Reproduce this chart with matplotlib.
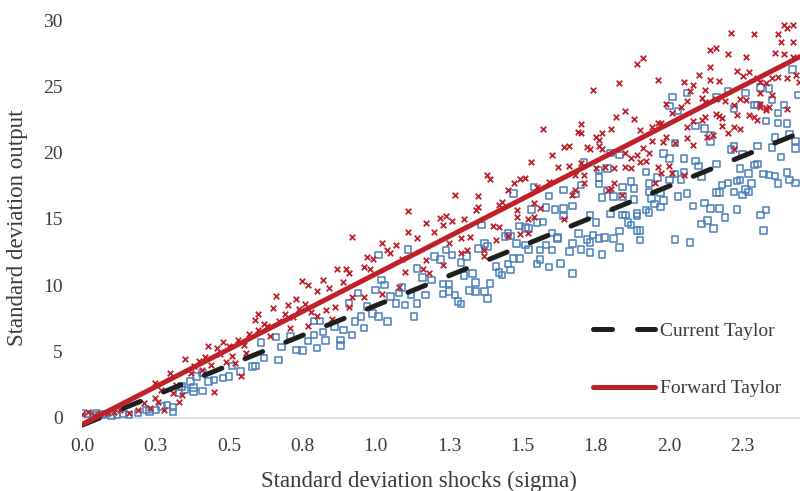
import matplotlib.pyplot as plt

plt.rcParams['font.family'] = ['Liberation Serif', 'DejaVu Serif']

# x ticks every 0.25, labelled with one decimal (Excel style)
x_ticks = [0.0, 0.25, 0.5, 0.75, 1.0, 1.25, 1.5, 1.75, 2.0, 2.25]
x_labels = ['0.0', '0.3', '0.5', '0.8', '1.0', '1.3', '1.5', '1.8', '2.0', '2.3']
y_ticks = [0, 5, 10, 15, 20, 25, 30]

# fitted lines
line_x = [0.0, 2.445]
current_taylor = [-0.55, 21.5]
forward_taylor = [-0.5, 27.25]

# simulated points, forward Taylor (red x)
red_pts = [
    (0.00, 0.30), (0.02, 0.47), (0.04, 0.25), (0.06, 0.40), (0.09, 0.35), (0.11, 0.45), (0.13, 0.60),
    (0.16, 0.35), (0.19, 0.60), (0.21, 1.11), (0.23, 0.73), (0.25, 1.48), (0.25, 2.61), (0.26, 1.23),
    (0.27, 2.11), (0.28, 0.60), (0.30, 3.37), (0.31, 1.86), (0.32, 2.49), (0.33, 1.23), (0.34, 1.73),
    (0.35, 4.42), (0.37, 3.40), (0.38, 3.90), (0.41, 3.60), (0.40, 4.30), (0.42, 4.60), (0.43, 5.45),
    (0.44, 4.00), (0.45, 1.94), (0.46, 5.30), (0.47, 4.80), (0.48, 5.70), (0.49, 4.20), (0.50, 5.40),
    (0.51, 4.70), (0.52, 4.10), (0.53, 5.90), (0.54, 3.17), (0.55, 5.50), (0.56, 4.90), (0.57, 6.30),
    (0.59, 7.40), (0.60, 7.84), (0.60, 6.60), (0.62, 7.10), (0.63, 6.90), (0.64, 6.16), (0.65, 8.27),
    (0.66, 9.19), (0.67, 7.30), (0.69, 7.80), (0.70, 8.50), (0.71, 6.76), (0.72, 7.60), (0.73, 9.00),
    (0.74, 8.20), (0.75, 10.35), (0.76, 8.60), (0.77, 10.00), (0.77, 6.90), (0.78, 8.00), (0.80, 9.60),
    (0.80, 7.70), (0.82, 10.40), (0.83, 8.14), (0.84, 9.77), (0.85, 7.44), (0.86, 8.39), (0.87, 11.20),
    (0.89, 10.23), (0.90, 11.20), (0.91, 10.90), (0.91, 8.39), (0.92, 13.66), (0.92, 9.14), (0.96, 11.36),
    (0.96, 9.09), (0.97, 12.16), (0.98, 11.20), (0.99, 11.96), (1.02, 13.16), (1.02, 9.34), (1.04, 12.66),
    (1.05, 12.46), (1.07, 13.04), (1.08, 9.85), (1.09, 11.96), (1.10, 11.03), (1.11, 15.62), (1.11, 14.02),
    (1.14, 13.54), (1.16, 11.20), (1.17, 14.67), (1.17, 11.90), (1.18, 10.90), (1.20, 14.04), (1.22, 15.05),
    (1.23, 11.53), (1.23, 14.54), (1.24, 15.22), (1.25, 13.16), (1.26, 14.85), (1.27, 16.83), (1.29, 13.54),
    (1.29, 12.41), (1.30, 14.97), (1.31, 12.66), (1.32, 13.66), (1.34, 15.67), (1.35, 15.92), (1.35, 16.73),
    (1.37, 12.21), (1.37, 12.66), (1.38, 18.29), (1.39, 17.99), (1.40, 14.47), (1.41, 13.41), (1.42, 16.05),
    (1.42, 14.42), (1.43, 16.30), (1.45, 17.18), (1.45, 13.72), (1.47, 17.73), (1.48, 15.12), (1.48, 15.67),
    (1.49, 18.03), (1.49, 13.87), (1.51, 18.06), (1.52, 14.97), (1.52, 13.96), (1.53, 19.27), (1.54, 15.17),
    (1.54, 16.22), (1.55, 17.38), (1.56, 15.80), (1.57, 21.78), (1.59, 17.81), (1.60, 19.82), (1.62, 18.89),
    (1.64, 20.45), (1.64, 14.97), (1.66, 20.50), (1.66, 18.99), (1.67, 16.80), (1.68, 18.31), (1.68, 17.18),
    (1.69, 21.58), (1.70, 21.50), (1.70, 22.16), (1.70, 19.24), (1.71, 18.31), (1.71, 17.68), (1.72, 20.40),
    (1.73, 20.25), (1.74, 24.72), (1.75, 18.82), (1.75, 21.20), (1.76, 20.50), (1.76, 20.95), (1.77, 20.25),
    (1.77, 21.50), (1.78, 18.94), (1.79, 17.18), (1.80, 17.23), (1.80, 21.76), (1.81, 18.82), (1.81, 17.73),
    (1.82, 22.66), (1.83, 25.27), (1.84, 16.80), (1.85, 23.16), (1.85, 18.94), (1.85, 19.95), (1.87, 19.57),
    (1.87, 18.82), (1.88, 22.51), (1.89, 26.68), (1.89, 19.82), (1.90, 21.70), (1.90, 19.31), (1.91, 27.18),
    (1.91, 20.32), (1.92, 19.39), (1.93, 19.99), (1.94, 21.95), (1.94, 20.90), (1.95, 17.68), (1.96, 25.52),
    (1.96, 22.25), (1.96, 18.89), (1.97, 22.21), (1.97, 18.44), (1.98, 20.82), (1.99, 23.66), (1.99, 21.15),
    (2.00, 18.99), (2.01, 23.00), (2.01, 18.49), (2.02, 20.70), (2.04, 23.47), (2.05, 25.34), (2.05, 18.31),
    (2.06, 23.91), (2.06, 21.91), (2.06, 21.12), (2.07, 24.67), (2.08, 25.09), (2.08, 20.57), (2.08, 22.38),
    (2.10, 25.85), (2.11, 24.09), (2.11, 22.46), (2.12, 22.71), (2.12, 23.84), (2.12, 24.72), (2.13, 21.15),
    (2.14, 26.43), (2.14, 27.73), (2.14, 25.47), (2.15, 21.33), (2.16, 22.91), (2.16, 27.93), (2.16, 24.02),
    (2.17, 22.76), (2.17, 25.42), (2.18, 22.59), (2.18, 22.00), (2.19, 23.91), (2.20, 27.41), (2.20, 21.50),
    (2.21, 29.06), (2.22, 23.59), (2.22, 21.95), (2.22, 20.25), (2.23, 26.17), (2.23, 22.83), (2.24, 24.02),
    (2.24, 21.76), (2.25, 25.77), (2.26, 27.23), (2.26, 23.96), (2.27, 26.07), (2.27, 22.83), (2.29, 28.94),
    (2.29, 22.71), (2.30, 25.60), (2.30, 22.46), (2.31, 23.47), (2.31, 23.66), (2.31, 25.34), (2.31, 24.47),
    (2.33, 25.27), (2.33, 23.21), (2.33, 23.34), (2.34, 23.41), (2.35, 25.60), (2.35, 24.34), (2.36, 27.53),
    (2.37, 25.72), (2.37, 28.99), (2.38, 28.36), (2.39, 29.62), (2.39, 27.43), (2.40, 29.37), (2.40, 25.60),
    (2.40, 23.26), (2.42, 29.62), (2.42, 27.23), (2.42, 28.36), (2.43, 25.85), (2.44, 25.34),
]

# simulated points, current Taylor (blue squares)
blue_pts = [
    (0.00, 0.35), (0.02, 0.30), (0.04, 0.23), (0.05, 0.35), (0.07, 0.23), (0.08, 0.30), (0.10, 0.15),
    (0.12, 0.25), (0.14, 0.30), (0.16, 0.23), (0.19, 0.35), (0.22, 0.60), (0.23, 0.47), (0.25, 0.60),
    (0.27, 0.85), (0.29, 0.98), (0.31, 0.81), (0.31, 0.45), (0.33, 1.86), (0.34, 2.36), (0.35, 2.11),
    (0.37, 2.74), (0.38, 1.98), (0.39, 3.11), (0.38, 2.30), (0.41, 2.03), (0.41, 3.37), (0.43, 2.74),
    (0.45, 2.86), (0.48, 2.99), (0.50, 3.11), (0.51, 3.92), (0.54, 3.49), (0.58, 3.87), (0.59, 3.90),
    (0.61, 5.67), (0.62, 4.50), (0.66, 6.08), (0.67, 4.37), (0.68, 5.33), (0.71, 6.16), (0.73, 5.12),
    (0.75, 5.07), (0.77, 5.78), (0.79, 6.25), (0.79, 7.29), (0.80, 5.25), (0.81, 7.29), (0.82, 6.46),
    (0.83, 5.83), (0.86, 6.88), (0.88, 5.88), (0.88, 5.45), (0.89, 6.63), (0.91, 8.64), (0.92, 6.25),
    (0.93, 7.26), (0.94, 9.40), (0.95, 7.63), (0.96, 6.76), (0.97, 8.39), (0.99, 7.89), (1.00, 9.65),
    (1.01, 12.28), (1.01, 7.63), (1.02, 10.40), (1.03, 10.02), (1.04, 7.26), (1.05, 9.14), (1.07, 8.64),
    (1.08, 9.40), (1.09, 9.85), (1.10, 8.52), (1.11, 12.71), (1.12, 9.27), (1.13, 7.63), (1.14, 11.28),
    (1.14, 8.64), (1.16, 10.60), (1.17, 9.27), (1.19, 10.40), (1.20, 12.16), (1.22, 11.96), (1.23, 9.34),
    (1.23, 10.10), (1.24, 12.66), (1.25, 10.10), (1.25, 9.52), (1.26, 12.28), (1.27, 9.27), (1.28, 8.77),
    (1.29, 11.70), (1.29, 8.59), (1.30, 10.72), (1.31, 12.16), (1.32, 9.59), (1.33, 10.90), (1.34, 10.20),
    (1.34, 9.52), (1.35, 12.79), (1.36, 14.54), (1.37, 13.16), (1.37, 9.52), (1.38, 12.91), (1.38, 9.02),
    (1.39, 10.15), (1.41, 11.40), (1.42, 10.95), (1.43, 10.78), (1.44, 13.66), (1.45, 11.60), (1.45, 13.92),
    (1.46, 11.15), (1.46, 13.72), (1.47, 16.93), (1.47, 12.03), (1.48, 13.16), (1.49, 14.47), (1.49, 12.03),
    (1.51, 14.37), (1.51, 13.04), (1.52, 12.71), (1.52, 14.29), (1.53, 15.73), (1.54, 17.43), (1.55, 14.72),
    (1.55, 11.60), (1.56, 12.66), (1.56, 11.96), (1.57, 14.79), (1.58, 13.04), (1.58, 15.88), (1.59, 11.36),
    (1.59, 16.73), (1.60, 12.66), (1.60, 13.96), (1.61, 15.73), (1.62, 13.54), (1.62, 13.62), (1.63, 11.66),
    (1.64, 17.18), (1.64, 15.80), (1.64, 15.22), (1.66, 12.53), (1.67, 10.90), (1.67, 15.98), (1.67, 13.16),
    (1.68, 16.88), (1.69, 13.92), (1.70, 17.56), (1.70, 12.71), (1.71, 19.31), (1.72, 13.47), (1.73, 15.30),
    (1.73, 13.21), (1.73, 12.46), (1.74, 13.79), (1.75, 14.72), (1.76, 17.63), (1.76, 13.54), (1.76, 18.14),
    (1.76, 18.69), (1.77, 16.63), (1.77, 12.34), (1.78, 13.62), (1.79, 17.18), (1.79, 18.82), (1.80, 15.37),
    (1.80, 19.99), (1.81, 16.68), (1.81, 13.54), (1.83, 19.82), (1.83, 14.09), (1.83, 12.86), (1.84, 17.43),
    (1.84, 16.68), (1.84, 15.30), (1.85, 15.30), (1.86, 14.72), (1.87, 17.81), (1.87, 14.54), (1.88, 17.31),
    (1.88, 16.48), (1.89, 15.42), (1.89, 14.12), (1.89, 15.22), (1.90, 14.12), (1.90, 13.41), (1.92, 15.67),
    (1.92, 18.56), (1.93, 17.05), (1.93, 15.47), (1.93, 17.68), (1.94, 16.56), (1.95, 16.13), (1.96, 18.14),
    (1.97, 16.98), (1.97, 15.92), (1.98, 16.38), (1.98, 19.95), (2.00, 19.57), (2.00, 17.94), (2.00, 23.51),
    (2.01, 24.21), (2.02, 20.75), (2.02, 18.39), (2.02, 13.47), (2.03, 23.16), (2.03, 16.71), (2.04, 17.99),
    (2.05, 19.57), (2.05, 18.56), (2.06, 24.51), (2.06, 16.93), (2.07, 13.21), (2.08, 15.98), (2.09, 19.39),
    (2.09, 22.00), (2.10, 18.99), (2.11, 14.62), (2.11, 18.19), (2.12, 21.83), (2.12, 16.22), (2.13, 14.87),
    (2.14, 21.33), (2.14, 20.82), (2.14, 15.80), (2.15, 14.29), (2.16, 24.17), (2.16, 19.14), (2.16, 16.98),
    (2.17, 16.98), (2.17, 15.80), (2.18, 17.56), (2.19, 15.12), (2.20, 24.67), (2.20, 17.73), (2.21, 20.25),
    (2.22, 20.50), (2.22, 23.34), (2.22, 17.05), (2.23, 15.73), (2.23, 17.88), (2.24, 17.94), (2.24, 18.82),
    (2.25, 16.80), (2.25, 19.90), (2.26, 17.23), (2.26, 24.51), (2.27, 18.44), (2.27, 17.05), (2.28, 17.68),
    (2.29, 23.59), (2.29, 19.07), (2.30, 20.50), (2.30, 19.14), (2.30, 23.59), (2.31, 24.92), (2.31, 15.30),
    (2.32, 18.39), (2.32, 14.12), (2.33, 22.40), (2.33, 15.67), (2.34, 18.31), (2.34, 24.85), (2.35, 20.40),
    (2.35, 23.96), (2.36, 18.26), (2.36, 21.15), (2.37, 23.00), (2.37, 17.68), (2.37, 22.25), (2.38, 19.69),
    (2.39, 23.59), (2.40, 18.49), (2.40, 22.21), (2.41, 21.40), (2.41, 17.94), (2.42, 26.28), (2.43, 17.73),
    (2.43, 20.90), (2.43, 20.32), (2.44, 24.34),
]

red = '#C0202A'
blue = '#4A7EBB'
txt = '#3a3a3a'

fig = plt.figure(figsize=(8, 4.91), dpi=100)
ax = fig.add_axes([0.1025, 0.122, 0.8975, 0.837])

bx, by = zip(*blue_pts)
ax.scatter(bx, by, marker='s', s=22, facecolors='none', edgecolors=blue,
           linewidths=1.1, zorder=2)
rx, ry = zip(*red_pts)
ax.scatter(rx, ry, marker='x', s=16, color=red, linewidths=1.3, zorder=3)

ax.plot(line_x, current_taylor, color='#1f1f1f', lw=3.6, dashes=(3.8, 5),
        dash_capstyle='round', label='Current Taylor', zorder=4)
ax.plot(line_x, forward_taylor, color=red, lw=3.6, solid_capstyle='round',
        label='Forward Taylor', zorder=5)

ax.axhline(0, color='#d9d9d9', lw=1.2, zorder=1)

ax.set_xlim(0, 2.445)
ax.set_ylim(-1, 30)
ax.set_xticks(x_ticks)
ax.set_xticklabels(x_labels)
ax.set_yticks(y_ticks)
for s in ax.spines.values():
    s.set_visible(False)
ax.tick_params(length=0, labelsize=14, colors=txt)
ax.tick_params(axis='x', pad=5)
ax.tick_params(axis='y', pad=14)

fig.text(0.524, 0.02, 'Standard deviation shocks (sigma)', ha='center', va='center',
         fontsize=16.5, color=txt)
fig.text(0.0225, 0.5356, 'Standard deviation output', ha='center', va='center',
         rotation=90, fontsize=16.5, color=txt)

ax.legend(loc='center left', bbox_to_anchor=(0.741, 0.267), bbox_transform=fig.transFigure,
          frameon=False, fontsize=14, handlelength=3.2, handletextpad=0.25,
          labelspacing=2.05, borderpad=0, borderaxespad=0, labelcolor=txt)

fig.savefig('out.png', dpi=100)
